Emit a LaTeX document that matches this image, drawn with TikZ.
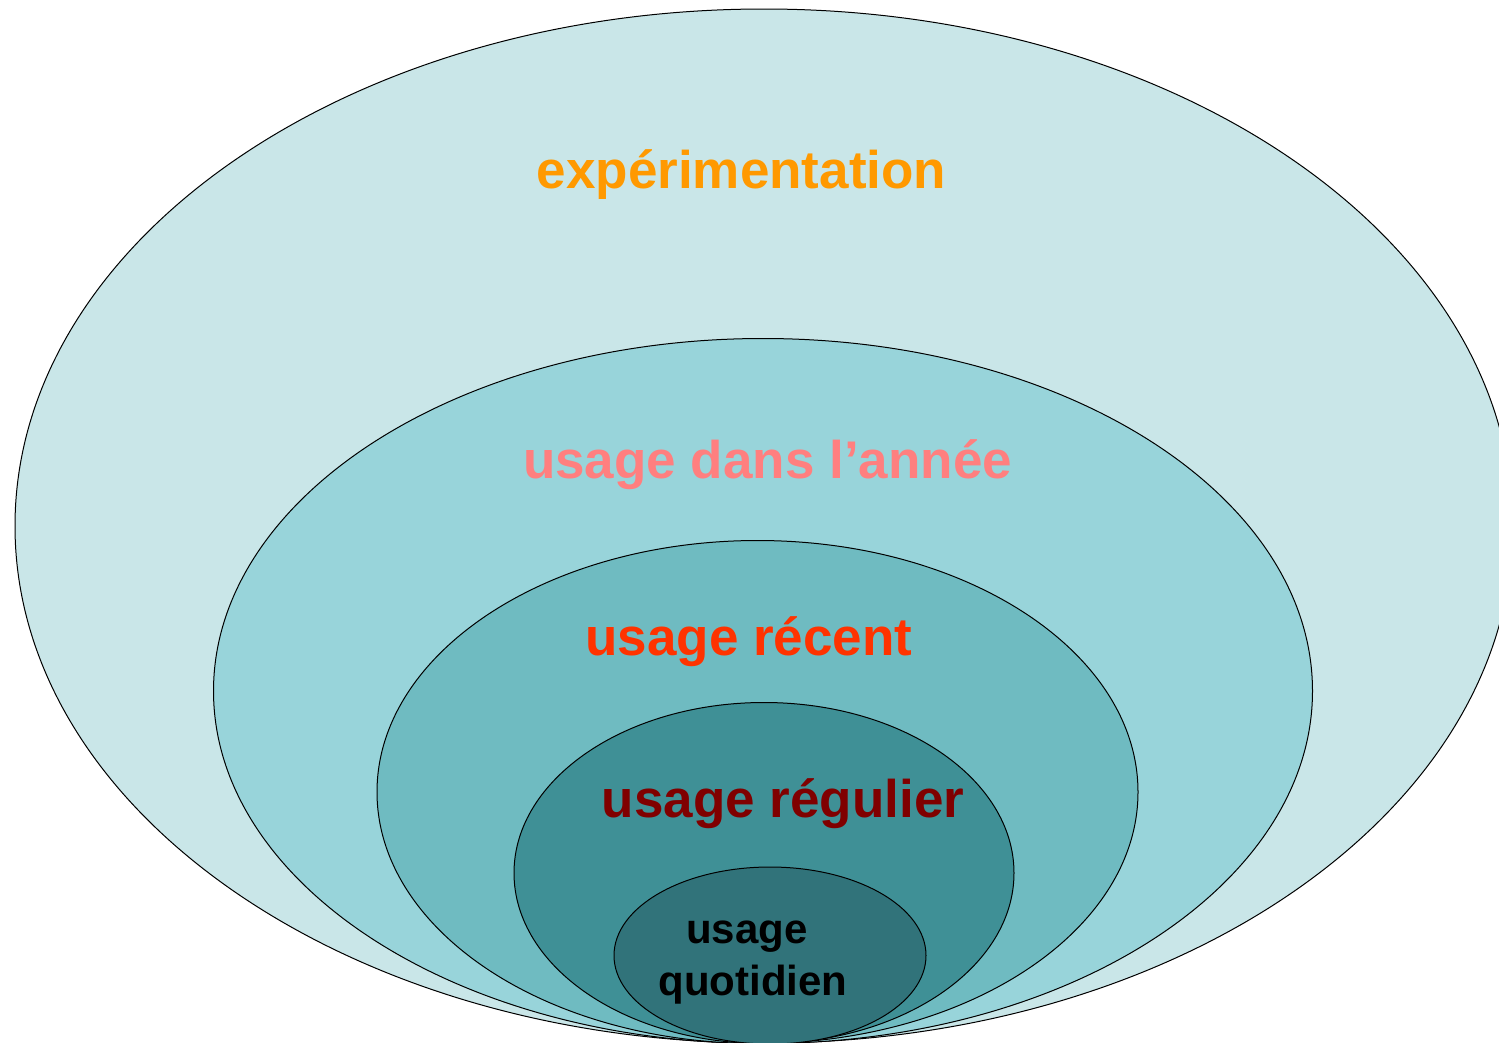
\documentclass[tikz,border=0pt]{standalone}
\usepackage{fontspec}
\setmainfont{Liberation Sans}
\definecolor{cA}{HTML}{C9E6E8}
\definecolor{cB}{HTML}{98D4DA}
\definecolor{cC}{HTML}{6FBBC1}
\definecolor{cD}{HTML}{3F9096}
\definecolor{cE}{HTML}{31737A}
\definecolor{tA}{HTML}{FF9900}
\definecolor{tB}{HTML}{FF7F7F}
\definecolor{tC}{HTML}{FF3300}
\definecolor{tD}{HTML}{800000}
\begin{document}
\begin{tikzpicture}[x=1pt,y=-1pt,
  ring/.style={draw=black,line width=1pt},
  lbl/.style={anchor=base,inner sep=0pt,font=\fontsize{53}{60}\selectfont\bfseries}]
\useasboundingbox (0,0) rectangle (1499,1042);
\clip (0,0) rectangle (1499,1042);
\fill[white] (0,0) rectangle (1499,1042);
\draw[ring,fill=cA] (764,526) ellipse [x radius=749,y radius=517];
\draw[ring,fill=cB] (763,691) ellipse [x radius=549.5,y radius=352.5];
\draw[ring,fill=cC] (757.5,792) ellipse [x radius=380.5,y radius=251.5];
\draw[ring,fill=cD] (764,873) ellipse [x radius=250,y radius=170.5];
\draw[ring,fill=cE] (770,955.5) ellipse [x radius=156,y radius=88.5];
\node[lbl,text=tA] (t1) at (741.5,188) {expérimentation};
\node[lbl,text=tB] (t2) at (767.5,478) {usage dans l’année};
\node[lbl,text=tC] (t3) at (749,655) {usage récent};
\node[lbl,text=tD] (t4) at (783,817) {usage régulier};
\node[lbl,font=\fontsize{42}{48}\selectfont\bfseries,text=black] (t5) at (747,943) {usage};
\node[lbl,font=\fontsize{42}{48}\selectfont\bfseries,text=black] (t6) at (753,995) {quotidien};
\end{tikzpicture}
\end{document}
